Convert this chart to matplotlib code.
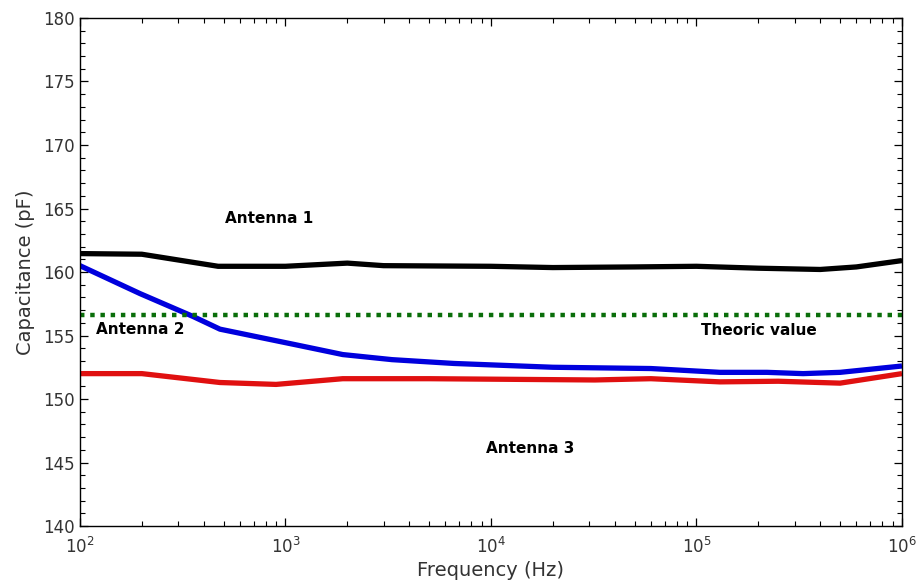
import matplotlib
matplotlib.use("Agg")
import matplotlib.pyplot as plt
from matplotlib.ticker import MultipleLocator, LogLocator, NullFormatter

# Data
f_black = [1e2, 2e2, 4.7e2, 1e3, 2e3, 3e3, 1e4, 2e4, 5e4, 1e5, 2e5, 4e5, 6e5, 1e6]
c_black = [161.45, 161.4, 160.45, 160.45, 160.7, 160.5, 160.45, 160.35, 160.4, 160.45, 160.3, 160.2, 160.4, 160.9]

f_blue = [1e2, 1.96e2, 3.55e2, 4.8e2, 1.1e3, 1.9e3, 3.3e3, 6.6e3, 2e4, 6e4, 1.3e5, 2.2e5, 3.3e5, 5e5, 1e6]
c_blue = [160.5, 158.3, 156.5, 155.5, 154.3, 153.5, 153.1, 152.8, 152.5, 152.4, 152.1, 152.1, 152.0, 152.1, 152.6]

f_red = [1e2, 2e2, 4.8e2, 9e2, 1.9e3, 5e3, 3.2e4, 6e4, 1.3e5, 2.5e5, 5e5, 1e6]
c_red = [152.0, 152.0, 151.3, 151.15, 151.6, 151.6, 151.5, 151.6, 151.35, 151.4, 151.25, 152.0]

theoric_value = 156.6

labels = ["Antenna 1", "Antenna 2", "Antenna 3", "Theoric value"]
label_pos = [(5.1e2, 164.2), (1.2e2, 155.5), (9.5e3, 146.1), (1.05e5, 155.4)]

fig = plt.figure(figsize=(9.19, 5.88), dpi=100)
ax = fig.add_axes([0.087, 0.1054, 0.8945, 0.864])

ax.plot(f_black, c_black, color="black", lw=3.8, solid_capstyle="butt")
ax.plot(f_blue, c_blue, color="#0000dd", lw=3.8, solid_capstyle="butt")
ax.plot(f_red, c_red, color="#e01010", lw=3.8, solid_capstyle="butt")
ax.axhline(theoric_value, color="#0a6e0a", lw=3.2, linestyle=(0, (1, 1.3)))

for t, (x, y) in zip(labels, label_pos):
    ax.text(x, y, t, fontsize=11, fontweight="bold", color="black",
            ha="left", va="center")

ax.set_xscale("log")
ax.set_xlim(1e2, 1e6)
ax.set_ylim(140, 180)
ax.yaxis.set_major_locator(MultipleLocator(5))
ax.yaxis.set_minor_locator(MultipleLocator(1))
ax.xaxis.set_major_locator(LogLocator(base=10, numticks=10))
ax.xaxis.set_minor_locator(LogLocator(base=10, subs=range(2, 10), numticks=20))
ax.xaxis.set_minor_formatter(NullFormatter())

ax.tick_params(which="both", direction="in", top=True, right=True,
               colors="black", labelcolor="#333333", labelsize=12)
ax.tick_params(axis="x", which="major", pad=8)
ax.tick_params(which="major", length=6, width=0.9)
ax.tick_params(which="minor", length=3.5, width=0.8)
for s in ax.spines.values():
    s.set_linewidth(1.0)

ax.set_xlabel("Frequency (Hz)", fontsize=14, color="#333333", labelpad=3)
ax.set_ylabel("Capacitance (pF)", fontsize=14, color="#333333", labelpad=6)

fig.savefig("out.png", dpi=100)
